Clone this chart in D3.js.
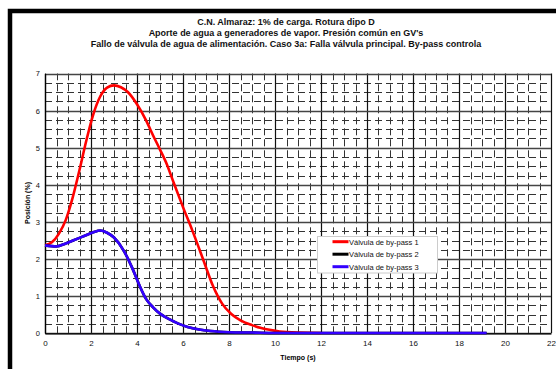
<!DOCTYPE html>
<html>
<head>
<meta charset="utf-8">
<script src="https://cdn.jsdelivr.net/npm/d3@7"></script>
<style>
  body { margin: 0; background: #fff; }
  svg { font-family: Arial, "Liberation Sans", sans-serif; }
</style>
</head>
<body>
<div id="chart"></div>
<script>
// title lines
const titleLines = [
  'C.N. Almaraz: 1% de carga. Rotura dipo D',
  'Aporte de agua a generadores de vapor. Presión común en GV\'s',
  'Fallo de válvula de agua de alimentación. Caso 3a: Falla válvula principal. By-pass controla'
];

const xTicks = [0, 2, 4, 6, 8, 10, 12, 14, 16, 18, 20, 22];
const yTicks = [0, 1, 2, 3, 4, 5, 6, 7];

const seriesNames = ['Válvula de by-pass 1', 'Válvula de by-pass  2', 'Válvula de by-pass 3'];

// tiempo (s), posición (%)
const bypass1 = [
  [0, 2.37], [0.3, 2.45], [0.6, 2.68], [0.9, 3.05], [1.2, 3.65], [1.5, 4.4],
  [1.8, 5.2], [2.1, 5.9], [2.4, 6.38], [2.7, 6.62], [3.0, 6.68], [3.3, 6.63],
  [3.6, 6.5], [4.0, 6.17], [4.4, 5.73], [4.7, 5.33], [5.0, 4.95], [5.3, 4.55],
  [5.6, 4.05], [6.0, 3.4], [6.4, 2.78], [6.9, 1.95], [7.3, 1.28], [7.7, 0.8],
  [8.1, 0.52], [8.5, 0.35], [9.0, 0.22], [9.4, 0.14], [10.2, 0.05], [11.0, 0.02],
  [12.0, 0.01]
];

const bypass2 = [
  [0, 2.37], [0.5, 2.34], [0.9, 2.42], [1.3, 2.52], [1.7, 2.62], [2.1, 2.72],
  [2.4, 2.77], [2.7, 2.71], [3.0, 2.58], [3.4, 2.25], [3.8, 1.75], [4.1, 1.3],
  [4.4, 0.92], [4.7, 0.7], [5.0, 0.53], [5.4, 0.38], [5.8, 0.26], [6.2, 0.17],
  [6.7, 0.1], [7.2, 0.06], [8.0, 0.03], [9.0, 0.02], [10, 0.01], [12, 0.01],
  [14, 0.01], [16, 0.01], [19.2, 0.01]
];

const bypass3 = [
  [0, 2.37], [0.5, 2.34], [0.9, 2.42], [1.3, 2.52], [1.7, 2.62], [2.1, 2.72],
  [2.4, 2.77], [2.7, 2.71], [3.0, 2.58], [3.4, 2.25], [3.8, 1.75], [4.1, 1.3],
  [4.4, 0.92], [4.7, 0.7], [5.0, 0.53], [5.4, 0.38], [5.8, 0.26], [6.2, 0.17],
  [6.7, 0.1], [7.2, 0.06], [8.0, 0.03], [9.0, 0.02], [10, 0.01], [12, 0.01],
  [14, 0.01], [16, 0.01], [19.2, 0.01]
];

const seriesColors = ['#ff0000', '#000000', '#3300ff'];
const seriesData = [bypass1, bypass2, bypass3];

const width = 556;
const height = 369;
const plot = { left: 45, right: 551, top: 73.5, bottom: 333.3 };

const svg = d3.select('#chart')
  .append('svg')
  .attr('width', width)
  .attr('height', height);

// outer frame (only top and left edges show)
svg.append('rect')
  .attr('x', 10).attr('y', 11)
  .attr('width', 600).attr('height', 400)
  .attr('fill', 'none')
  .attr('stroke', '#000')
  .attr('stroke-width', 4.5);

const x = d3.scaleLinear().domain([0, 22]).range([plot.left, plot.right]);
const y = d3.scaleLinear().domain([0, 7]).range([plot.bottom, plot.top]);

// titles
svg.append('g')
  .selectAll('text')
  .data(titleLines)
  .enter()
  .append('text')
  .attr('x', 286)
  .attr('y', (d, i) => 24.5 + i * 11)
  .attr('text-anchor', 'middle')
  .attr('font-size', '9px')
  .attr('font-weight', 'bold')
  .attr('fill', '#111')
  .text((d) => d);

const grid = svg.append('g');

// minor grid (dashed)
const xMinor = d3.range(0, 22.01, 0.5).filter((v) => v % 2 !== 0);
const yMinor = d3.range(0, 7.01, 0.25).filter((v) => v % 1 !== 0);

grid.selectAll('line.xminor')
  .data(xMinor)
  .enter()
  .append('line')
  .attr('class', 'xminor')
  .attr('x1', (d) => Math.round(x(d)) + 0.5)
  .attr('x2', (d) => Math.round(x(d)) + 0.5)
  .attr('y1', plot.bottom)
  .attr('y2', plot.top)
  .attr('stroke', '#333')
  .attr('stroke-width', 1)
  .attr('stroke-dasharray', '7,4');

grid.selectAll('line.yminor')
  .data(yMinor)
  .enter()
  .append('line')
  .attr('class', 'yminor')
  .attr('y1', (d) => Math.round(y(d)) + 0.5)
  .attr('y2', (d) => Math.round(y(d)) + 0.5)
  .attr('x1', plot.left)
  .attr('x2', plot.right)
  .attr('stroke', '#333')
  .attr('stroke-width', 1)
  .attr('stroke-dasharray', '7,4');

// major grid
grid.selectAll('line.xmajor')
  .data(xTicks)
  .enter()
  .append('line')
  .attr('class', 'xmajor')
  .attr('x1', (d) => Math.round(x(d)) + 0.5)
  .attr('x2', (d) => Math.round(x(d)) + 0.5)
  .attr('y1', plot.bottom)
  .attr('y2', plot.top)
  .attr('stroke', '#111')
  .attr('stroke-width', 1.2);

grid.selectAll('line.ymajor')
  .data(yTicks)
  .enter()
  .append('line')
  .attr('class', 'ymajor')
  .attr('y1', (d) => Math.round(y(d)) + 0.5)
  .attr('y2', (d) => Math.round(y(d)) + 0.5)
  .attr('x1', plot.left)
  .attr('x2', plot.right)
  .attr('stroke', '#444')
  .attr('stroke-width', 1.3);

// axes
const xAxis = svg.append('g')
  .attr('transform', `translate(0,${plot.bottom})`)
  .call(d3.axisBottom(x).tickValues(xTicks).tickSize(0).tickPadding(7).tickFormat(d3.format('d')));
xAxis.select('.domain').attr('stroke', '#000').attr('stroke-width', 1.3);
xAxis.selectAll('text').attr('font-size', '8px').attr('fill', '#111').attr('font-family', 'Arial, "Liberation Sans", sans-serif');

const yAxis = svg.append('g')
  .attr('transform', `translate(${plot.left},0)`)
  .call(d3.axisLeft(y).tickValues(yTicks).tickSize(0).tickPadding(5).tickFormat(d3.format('d')));
yAxis.select('.domain').attr('stroke', '#000').attr('stroke-width', 1.3);
yAxis.selectAll('text').attr('font-size', '7.5px').attr('fill', '#111').attr('font-family', 'Arial, "Liberation Sans", sans-serif');

// axis labels
svg.append('text')
  .attr('x', 298)
  .attr('y', 360)
  .attr('text-anchor', 'middle')
  .attr('font-size', '7px')
  .attr('font-weight', 'bold')
  .text('Tiempo (s)');

svg.append('text')
  .attr('transform', 'translate(30,203) rotate(-90)')
  .attr('text-anchor', 'middle')
  .attr('font-size', '7px')
  .attr('font-weight', 'bold')
  .text('Posición (%)');

// curves
const line = d3.line()
  .x((d) => x(d[0]))
  .y((d) => y(d[1]))
  .curve(d3.curveMonotoneX);

svg.append('g')
  .selectAll('path')
  .data(seriesData)
  .enter()
  .append('path')
  .attr('d', (d) => line(d))
  .attr('fill', 'none')
  .attr('stroke', (d, i) => seriesColors[i])
  .attr('stroke-width', 2.6)
  .attr('stroke-linejoin', 'round');

// legend
const legend = svg.append('g').attr('transform', 'translate(317.5,236.5)');
legend.append('rect')
  .attr('width', 120)
  .attr('height', 36.5)
  .attr('fill', '#fff')
  .attr('stroke', '#ccc')
  .attr('stroke-width', 1);

const legendItems = legend.selectAll('g.item')
  .data(seriesNames)
  .enter()
  .append('g')
  .attr('class', 'item')
  .attr('transform', (d, i) => `translate(0,${5.2 + i * 12.5})`);

legendItems.append('line')
  .attr('x1', 15).attr('x2', 31)
  .attr('stroke', (d, i) => seriesColors[i])
  .attr('stroke-width', 3);

legendItems.append('text')
  .attr('x', 31.5)
  .attr('y', 2.8)
  .attr('font-size', '7.5px')
  .attr('fill', '#111')
  .text((d) => d);
</script>
</body>
</html>
